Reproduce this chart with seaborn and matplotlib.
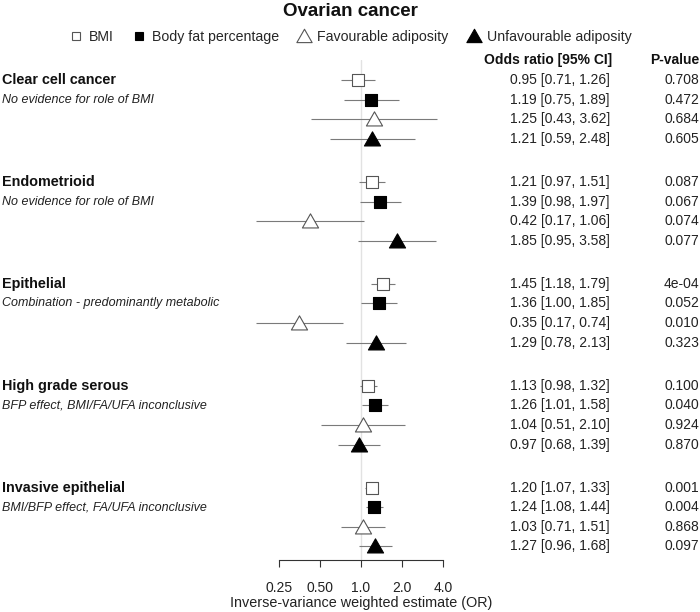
import matplotlib
matplotlib.use("Agg")
import matplotlib.pyplot as plt
import matplotlib.transforms as mtransforms
from matplotlib.lines import Line2D
from matplotlib.path import Path
import numpy as np
import pandas as pd
import seaborn as sns

# ---------------- data ----------------
outcomes = ["Clear cell cancer", "Endometrioid", "Epithelial",
            "High grade serous", "Invasive epithelial"]
subtitles = ["No evidence for role of BMI",
             "No evidence for role of BMI",
             "Combination - predominantly metabolic",
             "BFP effect, BMI/FA/UFA inconclusive",
             "BMI/BFP effect, FA/UFA inconclusive"]
exposures = ["BMI", "Body fat percentage", "Favourable adiposity",
             "Unfavourable adiposity"]

or_clear = [0.95, 1.19, 1.25, 1.21]
lo_clear = [0.71, 0.75, 0.43, 0.59]
hi_clear = [1.26, 1.89, 3.62, 2.48]
p_clear = ["0.708", "0.472", "0.684", "0.605"]

or_endo = [1.21, 1.39, 0.42, 1.85]
lo_endo = [0.97, 0.98, 0.17, 0.95]
hi_endo = [1.51, 1.97, 1.06, 3.58]
p_endo = ["0.087", "0.067", "0.074", "0.077"]

or_epi = [1.45, 1.36, 0.35, 1.29]
lo_epi = [1.18, 1.00, 0.17, 0.78]
hi_epi = [1.79, 1.85, 0.74, 2.13]
p_epi = ["4e-04", "0.052", "0.010", "0.323"]

or_hgs = [1.13, 1.26, 1.04, 0.97]
lo_hgs = [0.98, 1.01, 0.51, 0.68]
hi_hgs = [1.32, 1.58, 2.10, 1.39]
p_hgs = ["0.100", "0.040", "0.924", "0.870"]

or_inv = [1.20, 1.24, 1.03, 1.27]
lo_inv = [1.07, 1.08, 0.71, 0.96]
hi_inv = [1.33, 1.44, 1.51, 1.68]
p_inv = ["0.001", "0.004", "0.868", "0.097"]

x_ticks = [0.25, 0.5, 1.0, 2.0, 4.0]
x_tick_labels = ["0.25", "0.50", "1.0", "2.0", "4.0"]

# ---------------- table ----------------
all_or = [or_clear, or_endo, or_epi, or_hgs, or_inv]
all_lo = [lo_clear, lo_endo, lo_epi, lo_hgs, lo_inv]
all_hi = [hi_clear, hi_endo, hi_epi, hi_hgs, hi_inv]
all_p = [p_clear, p_endo, p_epi, p_hgs, p_inv]

GROUP_STEP = 5.2
rows = []
for g, name in enumerate(outcomes):
    for i, ex in enumerate(exposures):
        rows.append(dict(outcome=name, exposure=ex, OR=all_or[g][i],
                         lo=all_lo[g][i], hi=all_hi[g][i], p=all_p[g][i],
                         y=g * GROUP_STEP + i, g=g))
df = pd.DataFrame(rows)

# ---------------- style ----------------
sns.set_style("white")
plt.rcParams["font.family"] = ["Liberation Sans", "DejaVu Sans"]

W, H = 700, 612
fig = plt.figure(figsize=(7.0, 6.12), dpi=100)
ax = fig.add_axes([279 / W, 1 - 560 / H, (443 - 279) / W, 500 / H])

ax.set_xscale("log", base=2)
ax.set_xlim(0.25, 4.0)
ax.set_ylim(24.49, -1.02)

# reference line
ax.axvline(1.0, color="#e2e2e2", lw=1.0, zorder=0)

# CIs
ax.hlines(df["y"], df["lo"], df["hi"], color="#7a7a7a", lw=0.8,
          zorder=1, clip_on=False)

tri = Path([(-1.0, -0.8), (1.0, -0.8), (0.0, 0.95), (-1.0, -0.8)], closed=True)
styles = {
    "BMI": dict(marker="s", s=64, facecolor="white", edgecolor="#555555"),
    "Body fat percentage": dict(marker="s", s=64, facecolor="black", edgecolor="black"),
    "Favourable adiposity": dict(marker=tri, s=135, facecolor="white", edgecolor="#555555"),
    "Unfavourable adiposity": dict(marker=tri, s=135, facecolor="black", edgecolor="black"),
}
for ex in exposures:
    st = styles[ex]
    sub = df[df["exposure"] == ex]
    sns.scatterplot(data=sub, x="OR", y="y", ax=ax, marker=st["marker"],
                    s=st["s"], color=st["facecolor"], edgecolor=st["edgecolor"],
                    linewidth=0.8, zorder=3, legend=False, clip_on=False)

# axes styling
for side in ["top", "right", "left"]:
    ax.spines[side].set_visible(False)
ax.spines["bottom"].set_color("#333333")
ax.spines["bottom"].set_linewidth(0.8)
ax.set_yticks([])
ax.set_xticks(x_ticks)
ax.set_xticklabels(x_tick_labels)
ax.minorticks_off()
ax.tick_params(axis="x", direction="out", length=5, width=0.8, color="#333333",
               pad=10, labelsize=10, labelcolor="#222222", bottom=True)
ax.set_xlabel("Inverse-variance weighted estimate (OR)", fontsize=10.4,
              color="#222222", labelpad=1)
ax.set_ylabel("")

# text columns
trans = mtransforms.blended_transform_factory(fig.transFigure, ax.transData)
for g, name in enumerate(outcomes):
    ax.text(2 / W, g * GROUP_STEP, name, transform=trans, ha="left", va="center",
            fontsize=10.4, fontweight="bold", color="#111111")
    ax.text(2 / W, g * GROUP_STEP + 1, subtitles[g], transform=trans, ha="left",
            va="center", fontsize=9, fontstyle="italic", color="#222222")
for _, r in df.iterrows():
    ax.text(610 / W, r["y"], f"{r['OR']:.2f} [{r['lo']:.2f}, {r['hi']:.2f}]",
            transform=trans, ha="right", va="center", fontsize=10, color="#222222")
    ax.text(699 / W, r["y"], r["p"], transform=trans, ha="right", va="center",
            fontsize=10, color="#222222")

fig.text(612 / W, 1 - 60 / H, "Odds ratio [95% CI]", ha="right", va="center",
         fontsize=10, fontweight="bold", color="#111111")
fig.text(699 / W, 1 - 60 / H, "P-value", ha="right", va="center",
         fontsize=10, fontweight="bold", color="#111111")

fig.text(0.5, 1 - 11 / H, "Ovarian cancer", ha="center", va="center",
         fontsize=13.5, fontweight="bold", color="#111111")

# legend
handles = [
    Line2D([], [], ls="none", marker="s", markersize=6, mfc="white", mec="#555555", mew=0.8),
    Line2D([], [], ls="none", marker="s", markersize=6, mfc="black", mec="black", mew=0.8),
    Line2D([], [], ls="none", marker=tri, markersize=11, mfc="white", mec="#555555", mew=0.8),
    Line2D([], [], ls="none", marker=tri, markersize=11, mfc="black", mec="black", mew=0.8),
]
fig.legend(handles, exposures, loc="center", bbox_to_anchor=(0.5, 1 - 37 / H),
           ncol=4, frameon=False, fontsize=10.2, handlelength=1.0,
           handletextpad=0.4, columnspacing=1.3, borderaxespad=0)

fig.savefig("out.png", dpi=100)
